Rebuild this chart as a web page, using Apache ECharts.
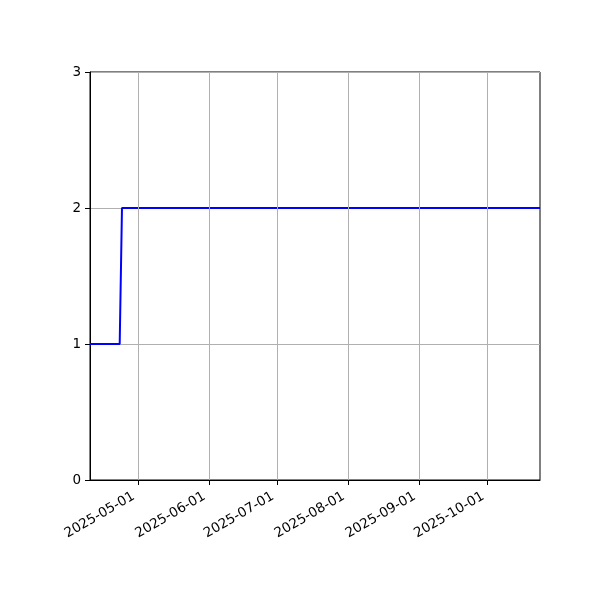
<!DOCTYPE html>
<html>
<head>
<meta charset="utf-8">
<script src="https://cdn.jsdelivr.net/npm/echarts@6/dist/echarts.min.js"></script>
<style>html,body{margin:0;padding:0;background:#fff}#c{width:600px;height:600px}</style>
</head>
<body>
<div id="c"></div>
<script>
const dates = ['2025-04-10', '2025-04-23', '2025-04-24', '2025-10-24'];
const values = [1, 1, 2, 2];
const tickDates = ['2025-05-01', '2025-06-01', '2025-07-01', '2025-08-01', '2025-09-01', '2025-10-01'];
const yTicks = [0, 1, 2, 3];

const ts = s => new Date(s + 'T00:00:00').getTime();
const pad = n => (n < 10 ? '0' : '') + n;
const fmt = v => { const d = new Date(v); return d.getFullYear() + '-' + pad(d.getMonth() + 1) + '-' + pad(d.getDate()); };

const chart = echarts.init(document.getElementById('c'), null, {renderer: 'canvas'});
const font = 'DejaVu Sans';
chart.setOption({
  animation: false,
  backgroundColor: '#fff',
  grid: {left: 90, right: 60, top: 72, bottom: 120, show: true, borderColor: '#000', borderWidth: 1, backgroundColor: 'transparent'},
  xAxis: {
    type: 'value',
    scale: true,
    min: ts(dates[0]),
    max: ts(dates[dates.length - 1]),
    axisLine: {show: true, lineStyle: {color: '#000', width: 1}},
    axisTick: {show: true, length: 5, lineStyle: {color: '#000'}, customValues: tickDates.map(ts)},
    axisLabel: {customValues: tickDates.map(ts), formatter: v => fmt(v), rotate: 30, margin: 13, padding: [0, 5, 0, 0], color: '#000', fontFamily: font, fontSize: 13.5},
    splitLine: {show: false}
  },
  yAxis: {
    type: 'value', min: yTicks[0], max: yTicks[yTicks.length - 1], interval: 1,
    axisLine: {show: true, lineStyle: {color: '#000', width: 1}},
    axisTick: {show: true, length: 5, lineStyle: {color: '#000'}},
    axisLabel: {margin: 9, color: '#000', fontFamily: font, fontSize: 13.5},
    splitLine: {show: true, lineStyle: {color: '#b0b0b0', width: 1}}
  },
  series: [
    {
      type: 'line', data: [], z: 1, silent: true,
      markLine: {
        silent: true, symbol: 'none', label: {show: false},
        lineStyle: {color: '#b0b0b0', width: 1, type: 'solid'},
        data: tickDates.map(d => ({xAxis: ts(d)}))
      }
    },
    {
      type: 'line', z: 3,
      data: dates.map((d, i) => [ts(d), values[i]]),
      showSymbol: false, symbol: 'none',
      lineStyle: {color: '#0000ff', width: 2},
      itemStyle: {color: '#0000ff'}
    }
  ]
});
</script>
</body>
</html>
